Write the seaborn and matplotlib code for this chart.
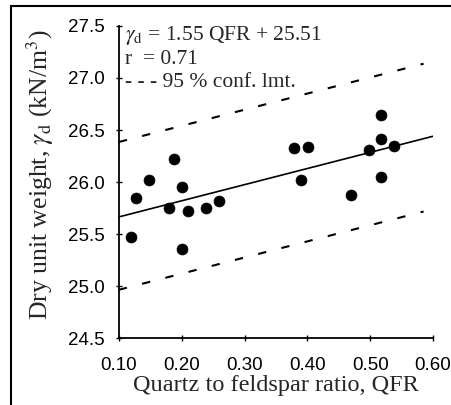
import numpy as np
import pandas as pd
import matplotlib
matplotlib.use("Agg")
import matplotlib.pyplot as plt
import seaborn as sns

qfr = [0.119, 0.128, 0.148, 0.180, 0.187, 0.200, 0.200, 0.210, 0.239, 0.260,
       0.379, 0.390, 0.401, 0.470, 0.498, 0.518, 0.518, 0.518, 0.538]
gamma_d = [25.47, 25.85, 26.02, 25.75, 26.22, 25.95, 25.36, 25.72, 25.75, 25.82,
           26.33, 26.02, 26.34, 25.88, 26.31, 26.64, 26.41, 26.05, 26.35]

slope = 1.55
intercept = 25.51
conf_offset_up = 0.72
conf_offset_lo = 0.70
fit_x = [0.10, 0.60]
conf_x = [0.10, 0.585]

x_ticks = [0.10, 0.20, 0.30, 0.40, 0.50, 0.60]
x_ticklabels = ["0.10", "0.20", "0.30", "0.40", "0.50", "0.60"]
y_ticks = [24.5, 25.0, 25.5, 26.0, 26.5, 27.0, 27.5]
y_ticklabels = ["24.5", "25.0", "25.5", "26.0", "26.5", "27.0", "27.5"]

sns.set_style("ticks")
plt.rcParams['font.family'] = ['Liberation Serif', 'DejaVu Serif']
plt.rcParams['mathtext.fontset'] = 'stix'

fig = plt.figure(figsize=(4.52, 4.05), dpi=100)
ax = fig.add_axes([0.263, 0.165, 0.695, 0.771])

df = pd.DataFrame({"QFR": qfr, "gd": gamma_d})
fit_df = pd.DataFrame({"x": fit_x, "y": [slope * v + intercept for v in fit_x]})
up_df = pd.DataFrame({"x": conf_x, "y": [slope * v + intercept + conf_offset_up for v in conf_x]})
lo_df = pd.DataFrame({"x": conf_x, "y": [slope * v + intercept - conf_offset_lo for v in conf_x]})

sns.lineplot(data=fit_df, x="x", y="y", ax=ax, color="black", lw=1.2)
sns.lineplot(data=up_df, x="x", y="y", ax=ax, color="black", lw=1.5, linestyle=(0, (4.0, 7.5)))
sns.lineplot(data=lo_df, x="x", y="y", ax=ax, color="black", lw=1.5, linestyle=(0, (4.0, 7.5)))
sns.scatterplot(data=df, x="QFR", y="gd", ax=ax, color="black", s=62, edgecolor="black", linewidth=0.5, zorder=5)

ax.set_xlim(0.10, 0.60)
ax.set_ylim(24.5, 27.5)
ax.set_xticks(x_ticks)
ax.set_yticks(y_ticks)
tick_font = dict(family=['Liberation Sans', 'DejaVu Sans'], size=13.5)
ax.set_xticklabels(x_ticklabels, fontdict=tick_font)
ax.set_yticklabels(y_ticklabels, fontdict=tick_font)
ax.tick_params(axis='both', direction='inout', length=5, width=1, colors='black')
ax.tick_params(axis='x', pad=11)
ax.tick_params(axis='y', pad=8)
ax.spines['top'].set_visible(False)
ax.spines['right'].set_visible(False)
for s in ['left', 'bottom']:
    ax.spines[s].set_linewidth(1.3)
    ax.spines[s].set_color('black')

ax.set_xlabel("Quartz to feldspar ratio, QFR", fontsize=17.5, labelpad=1)
ax.set_ylabel(r"Dry unit weight, $\gamma_\mathrm{d}$ (kN/m$^3$)", fontsize=18.5)
ax.yaxis.set_label_coords(-0.20, 0.522)

ax.text(0.02, 1.007, r"$\gamma_\mathrm{d}$ = 1.55 QFR + 25.51", transform=ax.transAxes,
        fontsize=15.5, va='top', ha='left')
ax.text(0.02, 0.924, "r  = 0.71", transform=ax.transAxes, fontsize=15.5, va='top', ha='left')
ax.text(0.02, 0.850, "- - - 95 % conf. lmt.", transform=ax.transAxes, fontsize=15.5, va='top', ha='left')

border = plt.Rectangle((11 / 452, -0.05), 1.2, (405 - 6) / 405 + 0.05, transform=fig.transFigure,
                       fill=False, edgecolor='black', lw=1.5)
fig.patches.append(border)

fig.savefig("out.png", dpi=100)
